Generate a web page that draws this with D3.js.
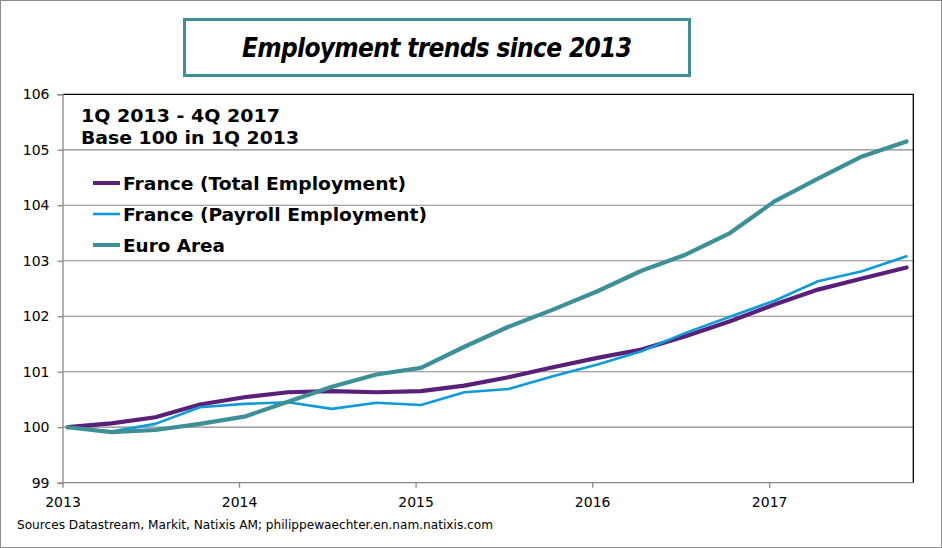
<!DOCTYPE html>
<html><head><meta charset="utf-8">
<script src="https://cdn.jsdelivr.net/npm/d3@7"></script>
<style>
html,body{margin:0;padding:0;background:#fff;}
svg{display:block;font-family:"DejaVu Sans",Verdana,sans-serif;}
</style></head>
<body><svg id="c" width="942" height="548"></svg>
<script>
const quarterDates = ["2013-01-12","2013-04-12","2013-07-12","2013-10-12",
  "2014-01-12","2014-04-12","2014-07-12","2014-10-12",
  "2015-01-12","2015-04-12","2015-07-12","2015-10-12",
  "2016-01-12","2016-04-12","2016-07-12","2016-10-12",
  "2017-01-12","2017-04-12","2017-07-12","2017-10-12"];
const franceTotal = [100, 100.07, 100.18, 100.41, 100.54, 100.63, 100.65, 100.63, 100.65, 100.75,
  100.90, 101.08, 101.25, 101.40, 101.64, 101.91, 102.21, 102.48, 102.68, 102.88];
const francePayroll = [100, 99.92, 100.06, 100.36, 100.42, 100.45, 100.33, 100.44, 100.40, 100.63,
  100.69, 100.92, 101.13, 101.37, 101.70, 101.99, 102.28, 102.63, 102.81, 103.08];
const euroArea = [100, 99.91, 99.95, 100.06, 100.19, 100.46, 100.73, 100.95, 101.07, 101.45,
  101.81, 102.12, 102.45, 102.82, 103.11, 103.50, 104.07, 104.48, 104.88, 105.15];
const seriesNames = ["France (Total Employment)", "France (Payroll Employment)", "Euro Area"];
const seriesColors = ["#5a1f79", "#0f9ad9", "#3d9096"];
const yTicks = [99, 100, 101, 102, 103, 104, 105, 106];
const xTickYears = [2013, 2014, 2015, 2016, 2017];

const svg = d3.select("#c");
const parse = d3.timeParse("%Y-%m-%d");
const dates = quarterDates.map(parse);

// outer border
svg.append("rect").attr("x",0.5).attr("y",0.5).attr("width",941).attr("height",547)
  .attr("fill","#fff").attr("stroke","#8c8c8c");

const L = 62.5, R = 913.3, T = 94.3, B = 482.7;
const x = d3.scaleTime().domain([new Date(2013,0,1), new Date(2017,9,26)]).range([L, R]);
const y = d3.scaleLinear().domain([99,106]).range([B, T]);

// gridlines
svg.append("g").selectAll("line").data(yTicks.filter(v => v > 99 && v < 106)).join("line")
  .attr("x1", L).attr("x2", R).attr("y1", d => y(d)).attr("y2", d => y(d))
  .attr("stroke", "#888").attr("stroke-width", 1.2);

// plot border top/right black
svg.append("path").attr("d", `M${L},${y(106)}H${R}V${B}`).attr("fill","none")
  .attr("stroke","#000").attr("stroke-width",1.3);

// y axis
const yAxis = svg.append("g").attr("transform", `translate(${L},0)`)
  .call(d3.axisLeft(y).tickValues(yTicks).tickSize(5).tickPadding(8).tickFormat(d3.format("d")));
yAxis.select(".domain").attr("stroke","#888").attr("stroke-width",1.3);
yAxis.selectAll(".tick line").attr("stroke","#888").attr("stroke-width",1.3);
yAxis.selectAll("text").attr("font-size",14).attr("fill","#000").attr("font-family","DejaVu Sans, sans-serif");

// x axis
const xAxis = svg.append("g").attr("transform", `translate(0,${B})`)
  .call(d3.axisBottom(x).tickValues(xTickYears.map(yr => new Date(yr,0,1))).tickSize(5).tickPadding(9)
    .tickFormat(d3.timeFormat("%Y")));
xAxis.select(".domain").attr("stroke","#888").attr("stroke-width",1.3).attr("d", `M${L},0H${R}`);
xAxis.selectAll(".tick line").attr("stroke","#888").attr("stroke-width",1.3);
xAxis.selectAll("text").attr("font-size",14).attr("fill","#000").attr("font-family","DejaVu Sans, sans-serif");

// lines
const allSeries = [franceTotal, francePayroll, euroArea];
const widths = [4.2, 2.6, 4.2];
const line = d3.line().x((d,i) => x(dates[i])).y(d => y(d));
allSeries.forEach((s, k) => {
  svg.append("path").datum(s).attr("d", line).attr("fill","none")
    .attr("stroke", seriesColors[k]).attr("stroke-width", widths[k])
    .attr("stroke-linejoin","round").attr("stroke-linecap","round");
});

// title box
svg.append("rect").attr("x",184.5).attr("y",19.5).attr("width",505).attr("height",56)
  .attr("fill","#fff").attr("stroke","#3d9096").attr("stroke-width",3);
svg.append("text").attr("x",437).attr("y",57).attr("text-anchor","middle")
  .attr("font-family","'DejaVu Sans Condensed', 'DejaVu Sans', sans-serif")
  .attr("font-size",26).attr("font-weight","bold").attr("font-style","italic")
  .attr("textLength",390).attr("lengthAdjust","spacing")
  .text("Employment trends since 2013");

// annotation
svg.append("text").attr("x",81).attr("y",122).attr("font-size",17).attr("font-weight","bold")
  .attr("textLength",199).attr("lengthAdjust","spacingAndGlyphs").text("1Q 2013 - 4Q 2017");
svg.append("text").attr("x",81).attr("y",144).attr("font-size",17).attr("font-weight","bold")
  .attr("textLength",218).attr("lengthAdjust","spacingAndGlyphs").text("Base 100 in 1Q 2013");

// legend
const legY = [183, 214, 245];
const legW = [283, 304, 102];
seriesNames.forEach((n, k) => {
  svg.append("line").attr("x1",93).attr("x2",120).attr("y1",legY[k]).attr("y2",legY[k])
    .attr("stroke", seriesColors[k]).attr("stroke-width", k === 1 ? 2.6 : 4);
  svg.append("text").attr("x",123).attr("y",legY[k]+7).attr("font-size",18).attr("font-weight","bold")
    .attr("textLength",legW[k]).attr("lengthAdjust","spacingAndGlyphs").text(n);
});

// footer
svg.append("text").attr("x",17).attr("y",529).attr("font-size",12)
  .attr("textLength",476).attr("lengthAdjust","spacingAndGlyphs")
  .text("Sources Datastream, Markit, Natixis AM;  philippewaechter.en.nam.natixis.com");
</script></body></html>
